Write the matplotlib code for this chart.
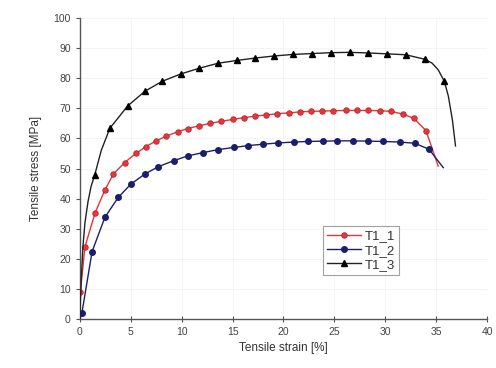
import numpy as np
import matplotlib.pyplot as plt

plt.rcParams['font.family'] = ['Liberation Sans', 'DejaVu Sans']

# T1_1 (red)
x1 = [0, 0.05, 0.5, 1.5, 2.46, 3.3, 4.4, 5.5, 6.5, 7.5, 8.5, 9.6, 10.6,
      11.7, 12.8, 13.9, 15.0, 16.1, 17.2, 18.3, 19.4, 20.5, 21.6, 22.7, 23.8,
      24.9, 26.1, 27.2, 28.3, 29.5, 30.6, 31.7, 32.8, 34.0, 35.2]
y1 = [0, 9, 24, 35.3, 42.9, 48.2, 52.0, 55.0, 57.3, 59.2, 60.8, 62.2, 63.3,
      64.2, 65.0, 65.7, 66.3, 66.9, 67.4, 67.8, 68.2, 68.5, 68.8, 69.0, 69.1,
      69.2, 69.3, 69.3, 69.3, 69.2, 69.0, 68.1, 66.7, 62.6, 50.8]

# T1_2 (blue)
x2 = [0, 0.2, 1.2, 2.46, 3.77, 5.0, 6.4, 7.7, 9.2, 10.6, 12.1, 13.6, 15.1,
      16.5, 18.0, 19.5, 21.0, 22.4, 23.9, 25.3, 26.8, 28.3, 29.8, 31.4, 32.9,
      34.3, 35.7]
y2 = [0, 2, 22.4, 33.8, 40.4, 44.8, 48.2, 50.6, 52.6, 54.2, 55.3, 56.3, 57.0,
      57.6, 58.1, 58.5, 58.8, 59.0, 59.1, 59.2, 59.2, 59.1, 59.0, 58.8, 58.4,
      56.4, 50.3]

# T1_3 (black)
x3 = [0, 0.05, 0.15, 0.3, 0.5, 0.8, 1.1, 1.47, 2.1, 2.95, 4.7, 6.4, 8.1,
      9.9, 11.7, 13.6, 15.4, 17.2, 19.1, 20.9, 22.8, 24.7, 26.5, 28.3, 30.2,
      32.0, 33.9, 34.6, 35.2, 35.8, 36.2, 36.6, 36.9]
y3 = [0, 6, 14, 24, 32, 39, 44, 48, 56, 63.4, 70.8, 75.7, 79.0,
      81.4, 83.3, 85.0, 85.9, 86.7, 87.4, 87.9, 88.2, 88.5, 88.6, 88.4, 88.1,
      87.8, 86.3, 85.0, 82.8, 79.0, 74.0, 66.0, 57.5]

fig = plt.figure(figsize=(4.96, 3.68), dpi=100)
ax = fig.add_axes([0.161, 0.133, 0.821, 0.818])

red = '#e8353a'
navy = '#1b1f6b'

# first/last points of red and blue carry no marker
ax.plot(x1, y1, '-', color=red, lw=1.0, marker='o', ms=4,
        markevery=list(range(1, len(x1) - 1)), mfc=red, mec='#b02025',
        mew=0.5, label='T1_1', zorder=3)
ax.plot(x2, y2, '-', color=navy, lw=1.0, marker='o', ms=4,
        markevery=list(range(1, len(x2) - 1)), mfc=navy, mec=navy,
        label='T1_2', zorder=3)
mk3 = [7] + list(range(9, 27)) + [29]
ax.plot(x3, y3, '-', color='#222222', lw=1.0, marker='^', ms=4.5,
        markevery=mk3, mfc='black', mec='black', label='T1_3', zorder=3)

ax.set_xlim(0, 40)
ax.set_ylim(0, 100)
ax.set_xticks(np.arange(0, 41, 5))
ax.set_yticks(np.arange(0, 101, 10))
for s in ['top', 'right']:
    ax.spines[s].set_visible(False)
for s in ['left', 'bottom']:
    ax.spines[s].set_color('#555555')
    ax.spines[s].set_linewidth(1.0)
ax.tick_params(axis='x', direction='inout', length=5, colors='#555555',
               labelsize=7.5, labelcolor='#444444')
ax.tick_params(axis='y', direction='out', length=3, colors='#555555',
               labelsize=7.5, labelcolor='#444444')
ax.grid(True, color='#f2f2f2', lw=0.6, zorder=0)

ax.set_xlabel('Tensile strain [%]', fontsize=8.5, color='#333333', labelpad=3)
ax.set_ylabel('Tensile stress [MPa]', fontsize=8.5, color='#333333', labelpad=8)

leg = ax.legend(loc='lower left', bbox_to_anchor=(0.58, 0.125), fontsize=9.5,
                frameon=True, fancybox=False, handlelength=2.6,
                borderpad=0.3, labelspacing=0.15, handletextpad=0.3)
leg.get_frame().set_edgecolor('#888888')
leg.get_frame().set_linewidth(0.8)
for t in leg.get_texts():
    t.set_color('#333333')

fig.savefig('out.png', dpi=100)
